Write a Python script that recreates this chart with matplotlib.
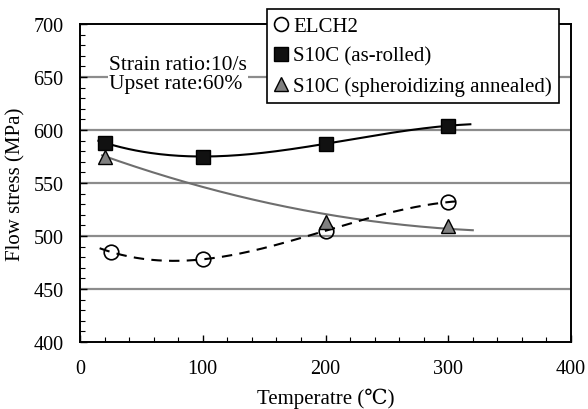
import numpy as np
import matplotlib
matplotlib.use("Agg")
import matplotlib.pyplot as plt
from matplotlib.ticker import MultipleLocator
from matplotlib.lines import Line2D

plt.rcParams['font.family'] = ['Liberation Serif', 'DejaVu Serif']

# Data
elch2_x = [25, 100, 200, 300]
elch2_y = [485, 478, 505, 532]
rolled_x = [20, 100, 200, 300]
rolled_y = [588, 575, 587, 604]
annealed_x = [20, 200, 300]
annealed_y = [575, 513, 509]
# trendline control values for the annealed curve
annealed_trend_x = [20, 100, 200, 300]
annealed_trend_y = [575, 547, 520, 507]

labels = ['ELCH2', 'S10C (as-rolled)', 'S10C (spheroidizing annealed)']
x_ticks = [0, 100, 200, 300, 400]
y_ticks = [400, 450, 500, 550, 600, 650, 700]
note_lines = ['Strain ratio:10/s', 'Upset rate:60%']

fig = plt.figure(figsize=(5.88, 4.10), dpi=100)
ax = fig.add_axes([80/588, 1-343/410, (571-80)/588, (343-25)/410])

FS_TICK = 14.5
FS_LAB = 15
FS_NOTE = 15.5
FS_LEG = 15

# gridlines
for yv in y_ticks[1:-1]:
    ax.axhline(yv, color='#8c8c8c', lw=1.6, zorder=1)

def trend(xs, ys, deg, x0, x1):
    p = np.polyfit(xs, ys, deg)
    xx = np.linspace(x0, x1, 200)
    return xx, np.polyval(p, xx)

xx, yy = trend(rolled_x, rolled_y, 3, 15, 318)
ax.plot(xx, yy, color='black', lw=1.5, zorder=3)
xx, yy = trend(annealed_trend_x, annealed_trend_y, 2, 18, 320)
ax.plot(xx, yy, color='#6e6e6e', lw=1.5, zorder=3)
xx, yy = trend(elch2_x, elch2_y, 3, 16, 312)
ax.plot(xx, yy, color='black', lw=1.5, ls=(0, (5, 3.5)), zorder=3)

ax.plot(elch2_x, elch2_y, 'o', ms=10.5, mfc='none', mec='black', mew=1.2, zorder=4)
ax.plot(rolled_x, rolled_y, 's', ms=10.5, mfc='#111111', mec='black', mew=1.0, zorder=4)
ax.plot(annealed_x, annealed_y, '^', ms=10.5, mfc='#808080', mec='black', mew=1.0, zorder=4)

ax.set_xlim(0, 400)
ax.set_ylim(400, 700)
ax.set_xticks(x_ticks)
ax.set_yticks(y_ticks)
ax.xaxis.set_minor_locator(MultipleLocator(20))
ax.yaxis.set_minor_locator(MultipleLocator(10))
ax.tick_params(which='both', direction='in', top=False, right=False, labelsize=FS_TICK, colors='black')
ax.tick_params(which='major', length=5, width=1.0, pad=12)
ax.tick_params(which='minor', length=3.5, width=0.8)
for s in ax.spines.values():
    s.set_linewidth(1.4)
    s.set_color('black')

ax.set_xlabel('Temperatre (\u2103)', fontsize=FS_LAB, labelpad=7)
ax.set_ylabel('Flow stress (MPa)', fontsize=FS_LAB, labelpad=5.5)

ax.text(109/588, 1-75/410, note_lines[0] + '\n' + note_lines[1], transform=fig.transFigure,
        fontsize=FS_NOTE, va='center', ha='left', linespacing=1.0,
        bbox=dict(facecolor='white', edgecolor='none', pad=1.0), zorder=5)

handles = [
    Line2D([], [], ls='none', marker='o', ms=10, mfc='none', mec='black', mew=1.2),
    Line2D([], [], ls='none', marker='s', ms=10, mfc='#111111', mec='black'),
    Line2D([], [], ls='none', marker='^', ms=10, mfc='#808080', mec='black'),
]
leg = fig.legend(handles, labels, loc='upper left', bbox_to_anchor=(267/588, 1-10/410),
                 bbox_transform=fig.transFigure, borderaxespad=0, fontsize=FS_LEG,
                 handlelength=0.6, handletextpad=0.3, labelspacing=0.5,
                 borderpad=0.35, fancybox=False, framealpha=1, edgecolor='black')
leg.get_frame().set_linewidth(1.2)
leg.set_zorder(10)

fig.savefig('out.png', dpi=100)
